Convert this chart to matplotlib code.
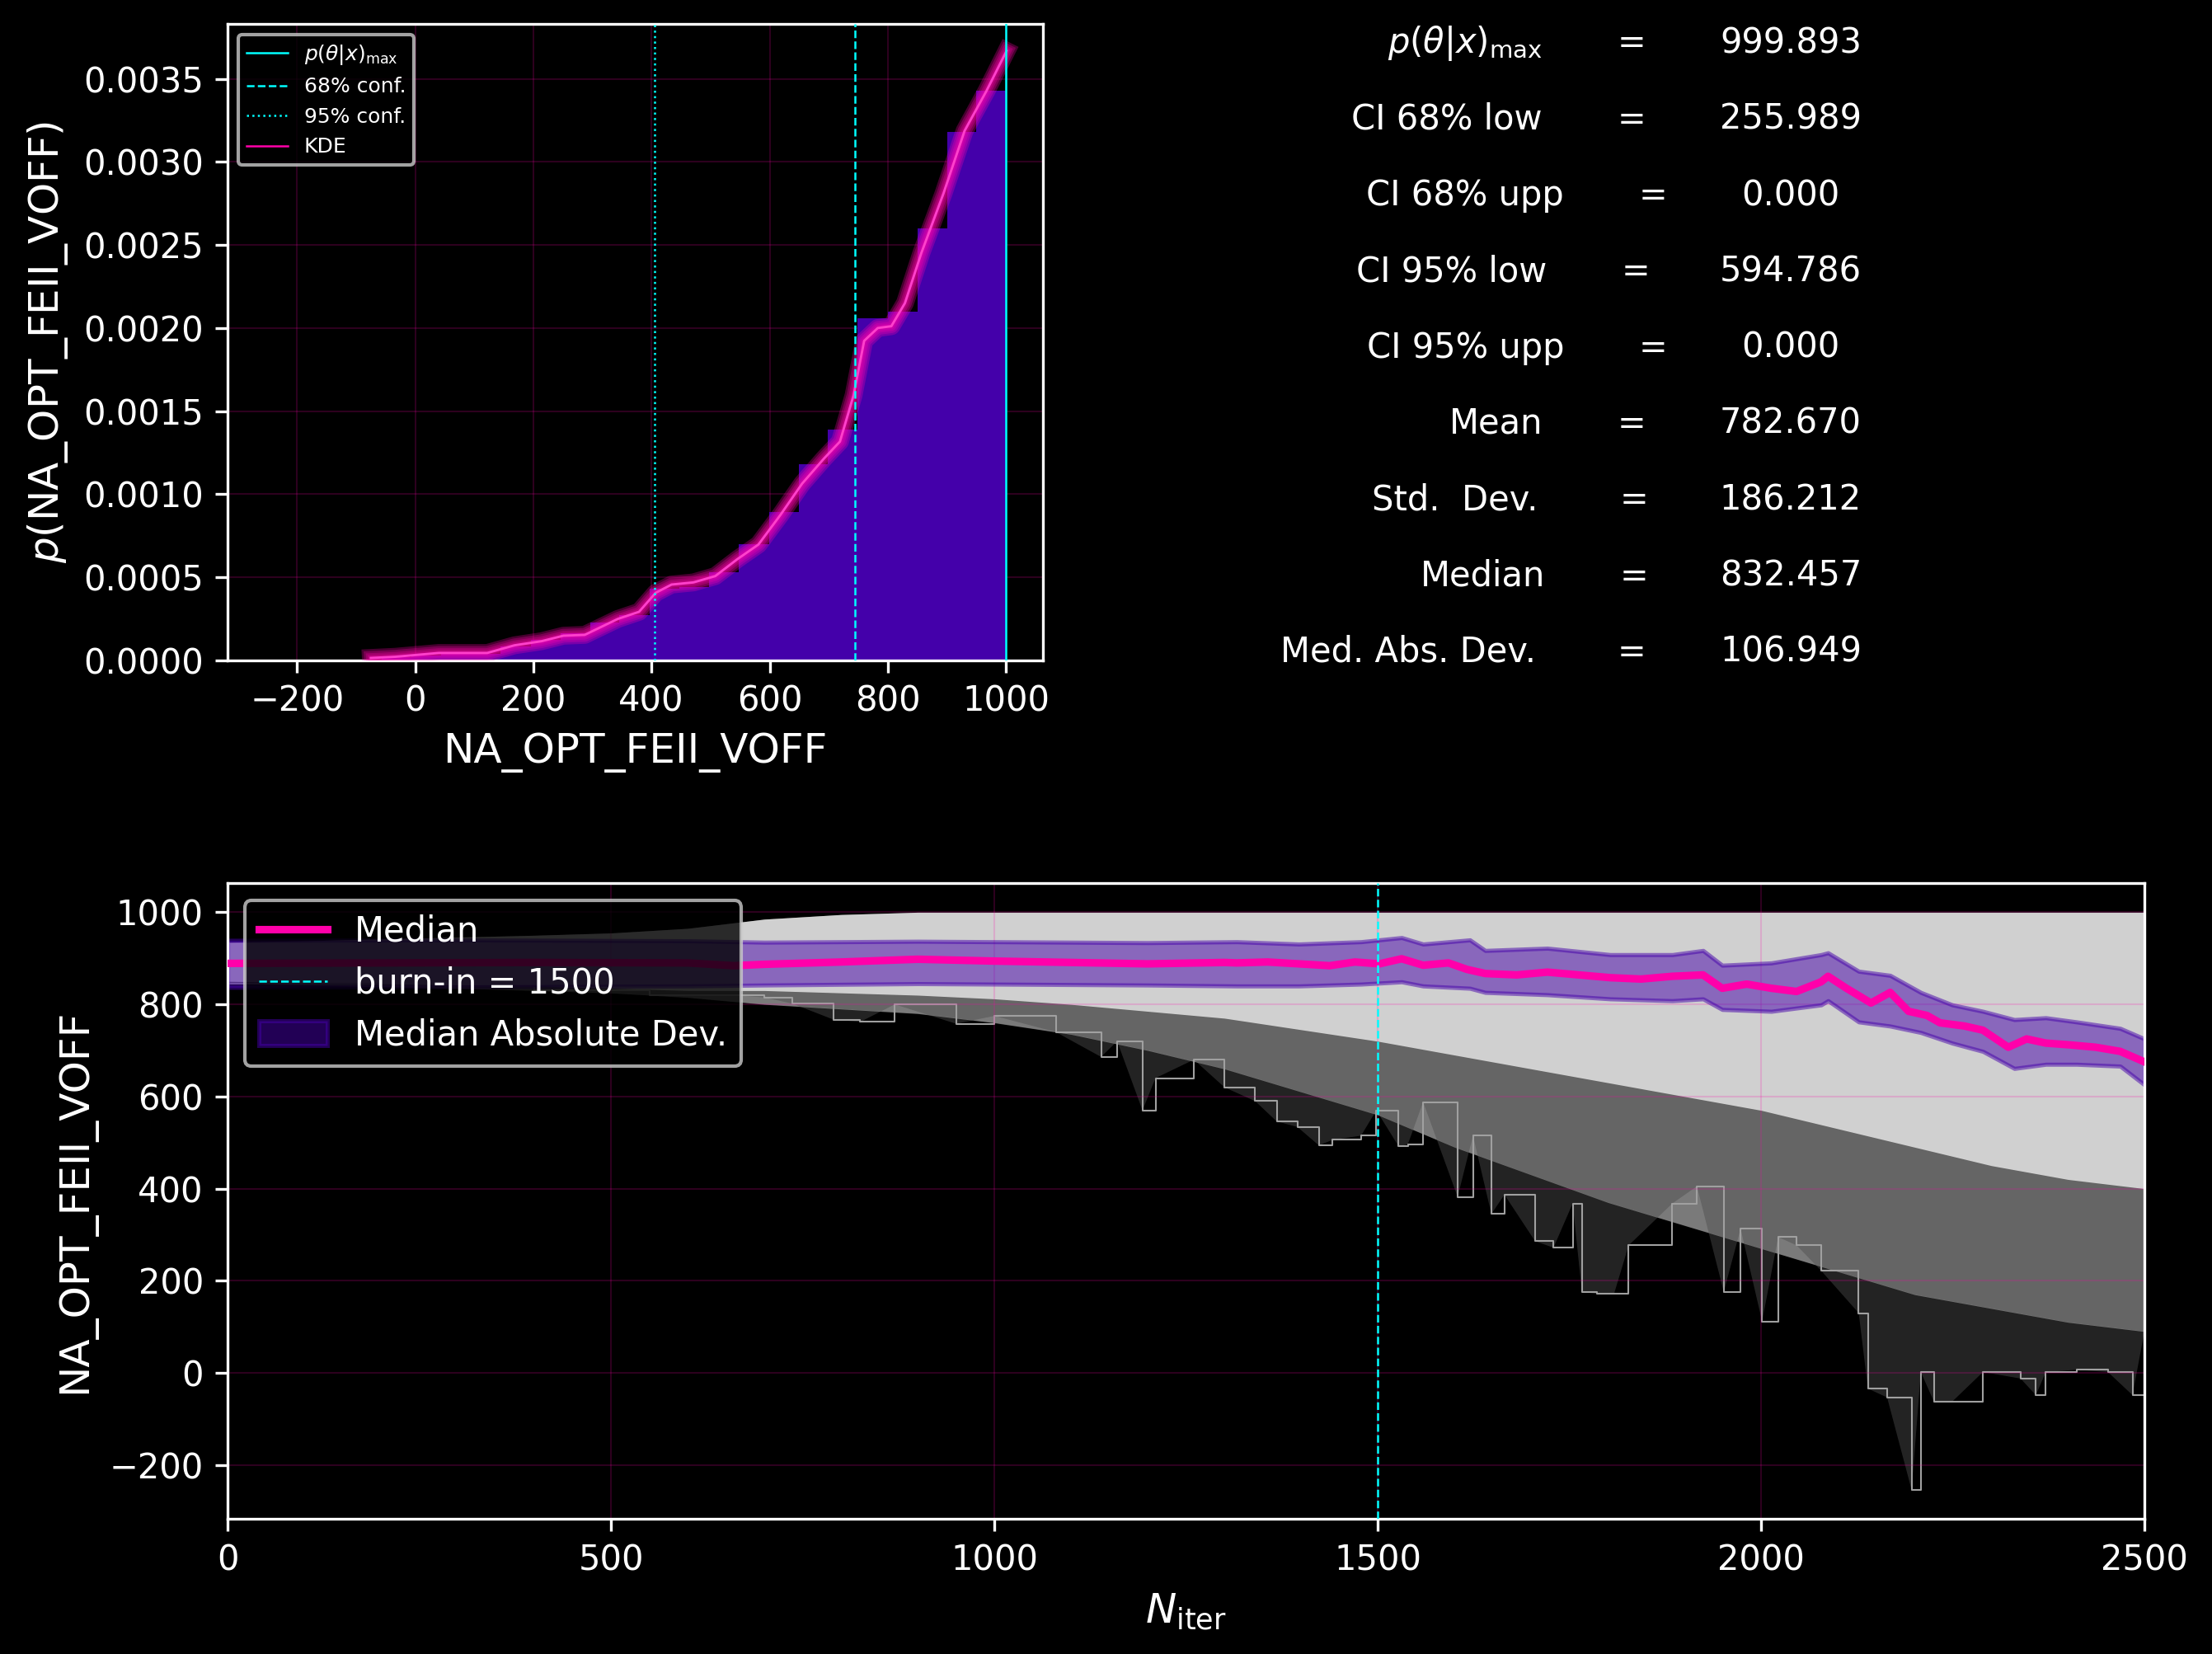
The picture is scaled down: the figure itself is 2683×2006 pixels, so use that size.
#!/usr/bin/env python3
"""Posterior histogram, chain trace and summary stats for one parameter."""

import matplotlib

matplotlib.use("Agg")
import matplotlib.pyplot as plt
from matplotlib.ticker import FormatStrFormatter

PARAM = "NA_OPT_FEII_VOFF"
BURN_IN = 1500

# histogram of the flattened chain (density per bin)
hist_edges = [-56, -6, 44, 95, 145, 196, 246, 296, 346, 397, 447, 498,
              548, 599, 649, 699, 749, 800, 850, 900, 950, 1000]
hist_dens = [0.00002, 0.00003, 0.00004, 0.00004, 0.00008, 0.00012, 0.00016,
             0.000225, 0.00027, 0.00043, 0.00044, 0.00053, 0.00070, 0.00089,
             0.00118, 0.00139, 0.00206, 0.00210, 0.00260, 0.00318, 0.00343]

# KDE curve
kde_x = [-75, -34, 40, 122, 168, 214, 251, 287, 343, 379, 407, 434, 471, 508,
         545, 581, 618, 655, 692, 719, 742, 760, 783, 806, 829, 857, 894, 930,
         967, 1001]
kde_y = [0.000013, 0.00002, 0.000043, 0.000043, 0.000089, 0.000114, 0.000147,
         0.000152, 0.000248, 0.000291, 0.000405, 0.000455, 0.000468, 0.000506,
         0.000607, 0.000696, 0.000873, 0.001063, 0.001214, 0.001316, 0.001594,
         0.001923, 0.002000, 0.002011, 0.002150, 0.002454, 0.002808, 0.003188,
         0.003428, 0.003669]

# summary statistics
p_max = 999.893
ci68_low, ci68_upp = 255.989, 0.000
ci95_low, ci95_upp = 594.786, 0.000
mean, std = 782.670, 186.212
median, mad = 832.457, 106.949

# walker ensemble, summarised as envelopes
walk_x = [0, 100, 200, 300, 400, 500, 600, 700, 800, 900, 1000, 1100, 1200,
          1300, 1400, 1500, 1600, 1700, 1800, 1900, 2000, 2100, 2200, 2300,
          2400, 2500]
walk_top = [935, 938, 942, 946, 950, 955, 965, 985, 995, 1000, 1000, 1000,
            1000, 1000, 1000, 1000, 1000, 1000, 1000, 1000, 1000, 1000, 1000,
            1000, 1000, 1000]
walk_dense_lo = [850, 848, 845, 842, 840, 835, 830, 830, 825, 820, 812, 800,
                 785, 770, 745, 720, 690, 660, 630, 600, 570, 530, 490, 450,
                 420, 400]
walk_sparse_lo = [845, 842, 838, 835, 830, 825, 815, 800, 790, 780, 760, 735,
                  700, 660, 610, 560, 490, 430, 370, 320, 270, 220, 170, 140,
                  110, 90]
walk_min_x = [0, 200, 400, 550, 660, 700, 736, 790, 825, 870, 950, 1000, 1080,
              1139, 1160, 1193, 1210, 1260, 1300, 1340, 1368, 1395, 1423, 1441,
              1478, 1498, 1527, 1539, 1559, 1604, 1624, 1648, 1665, 1705, 1729,
              1754, 1766, 1786, 1808, 1827, 1884, 1916, 1951, 1973, 2001, 2022,
              2046, 2078, 2127, 2139, 2164, 2196, 2208, 2225, 2249, 2289, 2338,
              2358, 2371, 2411, 2452, 2484, 2500]
walk_min_y = [845, 840, 830, 820, 820, 815, 802, 767, 762, 800, 758, 775, 740,
              686, 720, 570, 640, 680, 620, 590, 546, 534, 494, 506, 515, 570,
              492, 496, 588, 382, 515, 345, 387, 286, 272, 368, 176, 172, 172,
              277, 368, 405, 176, 313, 112, 295, 277, 222, 130, -34, -53, -254,
              2, -62, -62, 2, -12, -48, 2, 7, 2, -48, 94]

# running median of the walkers
med_x = [0, 200, 400, 600, 660, 700, 800, 900, 1000, 1100, 1200, 1300, 1316,
         1356, 1397, 1437, 1470, 1502, 1531, 1559, 1592, 1616, 1640, 1681, 1721,
         1762, 1803, 1843, 1884, 1924, 1949, 1981, 2013, 2046, 2078, 2087, 2111,
         2143, 2168, 2192, 2216, 2233, 2265, 2289, 2322, 2346, 2371, 2403, 2436,
         2468, 2500]
med_y = [889, 890, 891, 890, 884, 887, 892, 898, 894, 891, 888, 891, 890, 892,
         888, 884, 892, 888, 899, 885, 890, 876, 867, 864, 870, 864, 858, 855,
         861, 864, 835, 844, 835, 828, 849, 861, 835, 803, 826, 785, 776, 760,
         753, 744, 707, 725, 716, 712, 707, 698, 675]

# median absolute deviation band
band_x = [0, 300, 600, 700, 900, 1100, 1200, 1316, 1397, 1478, 1531, 1559, 1620,
          1640, 1721, 1803, 1884, 1924, 1949, 2013, 2078, 2087, 2127, 2168, 2208,
          2249, 2289, 2330, 2371, 2411, 2468, 2500]
band_hi = [939, 940, 938, 935, 937, 935, 934, 936, 931, 936, 945, 931, 940, 917,
           922, 908, 908, 917, 885, 890, 908, 912, 872, 863, 826, 799, 785, 767,
           771, 762, 748, 725]
band_lo = [837, 838, 840, 842, 845, 843, 842, 840, 840, 844, 849, 840, 835, 826,
           821, 812, 808, 812, 789, 785, 799, 808, 762, 753, 739, 716, 698, 661,
           670, 670, 666, 625]

stat_labels = [r"$p(\theta|x)_{\rm max}$", "CI 68% low", "CI 68% upp",
               "CI 95% low", "CI 95% upp", "Mean", "Std.  Dev.", "Median",
               "Med. Abs. Dev."]
stat_values = [p_max, ci68_low, ci68_upp, ci95_low, ci95_upp, mean, std,
               median, mad]

CYAN = "#00FFFF"
PINK = "#FF00AA"
PURPLE = "#4400AA"
GRID = "#FF00AA"

W, H, DPI = 2683, 2006, 300

plt.style.use("dark_background")
plt.rcParams["font.family"] = ["DejaVu Sans"]
plt.rcParams["font.size"] = 10

fig = plt.figure(figsize=(W / DPI, H / DPI), dpi=DPI)

# --- posterior histogram ---
ax1 = fig.add_axes([0.1030, 0.6009, 0.3685, 0.3845])
ax1.stairs(hist_dens, hist_edges, fill=True, color=PURPLE, zorder=1)
for lw in (5.2, 4.0, 2.8, 1.7):
    ax1.plot(kde_x, kde_y, color=PINK, lw=lw, alpha=0.28, zorder=3)
ax1.plot(kde_x, kde_y, color="#FF40CC", lw=0.7, zorder=4)
ax1.axvline(p_max, color=CYAN, lw=0.6, zorder=5, label=r"$p(\theta|x)_{\rm max}$")
ax1.axvline(p_max - ci68_low, color=CYAN, lw=0.6, ls="--", zorder=5, label="68% conf.")
ax1.axvline(p_max - ci95_low, color=CYAN, lw=0.6, ls=":", zorder=5, label="95% conf.")
ax1.plot([], [], color=PINK, lw=0.6, label="KDE")
ax1.set_xlim(-317, 1062.6)
ax1.set_ylim(0, 0.00383)
ax1.set_yticks([0, 0.0005, 0.001, 0.0015, 0.002, 0.0025, 0.003, 0.0035])
ax1.yaxis.set_major_formatter(FormatStrFormatter("%.4f"))
ax1.set_axisbelow(True)
ax1.grid(color=GRID, alpha=0.18, lw=0.5)
ax1.set_xlabel(PARAM, fontsize=12)
ax1.set_ylabel(r"$p($" + PARAM + r"$)$", fontsize=12)
ax1.legend(loc="upper left", fontsize=6)

# --- summary statistics ---
eq_x = [1979, 1979, 2004.6, 1984, 2004.6, 1979, 1981.5, 1981.5, 1979]
lab_x = [1871, 1871, 1897, 1876.5, 1897, 1871, 1865, 1874, 1863]
for i, (lab, val) in enumerate(zip(stat_labels, stat_values)):
    yb = 1 - (64.4 + 92.3 * i) / H
    fig.text(lab_x[i] / W, yb, lab, ha="right", va="baseline", fontsize=10)
    fig.text(eq_x[i] / W, yb, "=", ha="center", va="baseline", fontsize=10)
    fig.text(2172 / W, yb, f"{val:.3f}", ha="center", va="baseline", fontsize=10)

# --- chain trace ---
ax2 = fig.add_axes([0.1029, 0.0816, 0.8667, 0.3843])
ax2.fill(walk_min_x + walk_x[::-1], walk_min_y + walk_sparse_lo[::-1],
         color="white", alpha=0.14, lw=0, zorder=1)
ax2.fill_between(walk_x, walk_sparse_lo, walk_top, color="white", alpha=0.4,
                 lw=0, zorder=1)
ax2.fill_between(walk_x, walk_dense_lo, walk_top, color="white", alpha=0.7,
                 lw=0, zorder=1)
ax2.plot(walk_min_x, walk_min_y, color="#A0A0A0", lw=0.5, drawstyle="steps-post",
         zorder=1.2)
ax2.fill_between(band_x, band_lo, band_hi, color=PURPLE, alpha=0.5, lw=1.2,
                 zorder=2, label="Median Absolute Dev.")
ax2.plot(med_x, med_y, color=PINK, lw=2.2, zorder=3, label="Median")
ax2.axvline(BURN_IN, color=CYAN, lw=0.6, ls="--", zorder=4,
            label=f"burn-in = {BURN_IN}")
ax2.set_xlim(0, 2500)
ax2.set_ylim(-317, 1062.6)
ax2.set_xticks([0, 500, 1000, 1500, 2000, 2500])
ax2.set_yticks([-200, 0, 200, 400, 600, 800, 1000])
ax2.grid(color=GRID, alpha=0.18, lw=0.5, zorder=1.5)
ax2.set_xlabel(r"$N_{\rm iter}$", fontsize=12)
ax2.set_ylabel(PARAM, fontsize=12)
handles, labels = ax2.get_legend_handles_labels()
order = [labels.index("Median"), labels.index(f"burn-in = {BURN_IN}"),
         labels.index("Median Absolute Dev.")]
ax2.legend([handles[i] for i in order], [labels[i] for i in order],
           loc="upper left", fontsize=10)

fig.savefig("out.png", dpi=DPI, facecolor="black")
